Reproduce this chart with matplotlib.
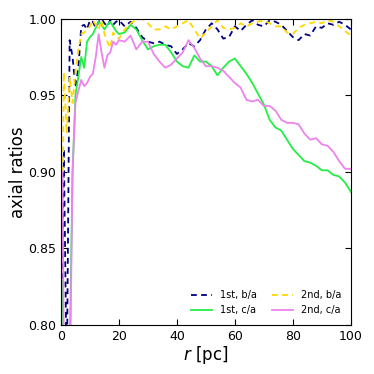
import numpy as np
import matplotlib
matplotlib.use('Agg')
import matplotlib.pyplot as plt

# radius grid [pc]
r = [0.5] + list(range(1, 21)) + list(range(22, 101, 2))

# 1st object, b/a
ba_1st = [0.83, 0.915, 0.76, 0.986, 0.975, 0.955, 0.968, 0.995, 0.996, 0.993,
          0.999, 0.998, 0.994, 0.998, 1.000, 0.997, 0.995, 0.999, 0.996, 0.998,
          0.999,
          0.995, 0.998, 0.994, 0.988, 0.985, 0.984, 0.985, 0.983, 0.982, 0.977,
          0.980, 0.984, 0.982, 0.986, 0.993, 0.997, 0.993, 0.987, 0.988, 0.995,
          0.992, 0.996, 0.999, 0.996, 0.995, 0.999, 0.998, 0.996, 0.992, 0.988,
          0.986, 0.990, 0.989, 0.995, 0.994, 0.997, 0.996, 0.998, 0.996, 0.993]

# 1st object, c/a
ca_1st = [0.829, 0.78, 0.70, 0.78, 0.90, 0.95, 0.962, 0.975, 0.968, 0.985,
          0.988, 0.990, 0.994, 0.998, 0.996, 0.993, 0.996, 0.998, 0.995, 0.992,
          0.990,
          0.991, 0.996, 0.993, 0.986, 0.980, 0.982, 0.983, 0.983, 0.978, 0.972,
          0.969, 0.968, 0.976, 0.972, 0.972, 0.969, 0.963, 0.968, 0.972, 0.974,
          0.969, 0.964, 0.958, 0.951, 0.944, 0.934, 0.929, 0.927, 0.921, 0.915,
          0.911, 0.907, 0.906, 0.904, 0.901, 0.901, 0.898, 0.897, 0.893, 0.887]

# 2nd object, b/a
ba_2nd = [0.86, 0.965, 0.925, 0.962, 0.945, 0.965, 0.980, 0.990, 0.991, 0.993,
          0.995, 0.999, 0.996, 0.993, 0.999, 0.990, 0.985, 0.981, 0.991, 0.988,
          0.987,
          0.993, 0.997, 0.999, 1.000, 0.997, 0.993, 0.993, 0.995, 0.993, 0.995,
          0.997, 0.999, 0.993, 0.987, 0.991, 0.995, 0.999, 0.994, 0.993, 0.994,
          0.997, 0.995, 0.997, 0.998, 0.999, 0.997, 0.995, 0.995, 0.991, 0.990,
          0.994, 0.996, 0.997, 0.998, 0.997, 0.999, 0.998, 0.995, 0.992, 0.989]

# 2nd object, c/a
ca_2nd = [0.90, 0.78, 0.70, 0.75, 0.90, 0.945, 0.953, 0.960, 0.956, 0.958,
          0.962, 0.964, 0.975, 0.990, 0.978, 0.968, 0.976, 0.978, 0.985, 0.983,
          0.986,
          0.985, 0.989, 0.980, 0.985, 0.985, 0.977, 0.972, 0.968, 0.970, 0.974,
          0.978, 0.986, 0.981, 0.974, 0.969, 0.969, 0.968, 0.966, 0.962, 0.958,
          0.955, 0.947, 0.946, 0.947, 0.943, 0.943, 0.940, 0.934, 0.932, 0.932,
          0.931, 0.925, 0.921, 0.922, 0.918, 0.917, 0.913, 0.907, 0.902, 0.902]

fig = plt.figure(figsize=(3.74, 3.74), dpi=100)
ax = fig.add_axes([0.163, 0.131, 0.775, 0.819])

lw = 1.3
ax.plot(r, ba_1st, color='navy', lw=lw, dashes=(3.2, 2.4), label='1st, b/a')
ax.plot(r, ca_1st, color='#22ee44', lw=lw, label='1st, c/a')
ax.plot(r, ba_2nd, color='gold', lw=lw, dashes=(3.2, 2.4), label='2nd, b/a')
ax.plot(r, ca_2nd, color='violet', lw=lw, label='2nd, c/a')

ax.set_xlim(0, 100)
ax.set_ylim(0.80, 1.00)
ax.set_xticks([0, 20, 40, 60, 80, 100])
ax.set_yticks([0.80, 0.85, 0.90, 0.95, 1.00])
ax.set_yticklabels(['0.80', '0.85', '0.90', '0.95', '1.00'])
ax.tick_params(direction='in', top=True, right=True, length=4, labelsize=9)

ax.set_xlabel(r'$r$ [pc]', fontsize=12, labelpad=1)
ax.set_ylabel('axial ratios', fontsize=12, labelpad=1)

ax.legend(loc='lower right', ncol=2, frameon=False, fontsize=7,
          handlelength=2.2, columnspacing=1.5, borderaxespad=0.6)

fig.savefig('out.png', dpi=100)
